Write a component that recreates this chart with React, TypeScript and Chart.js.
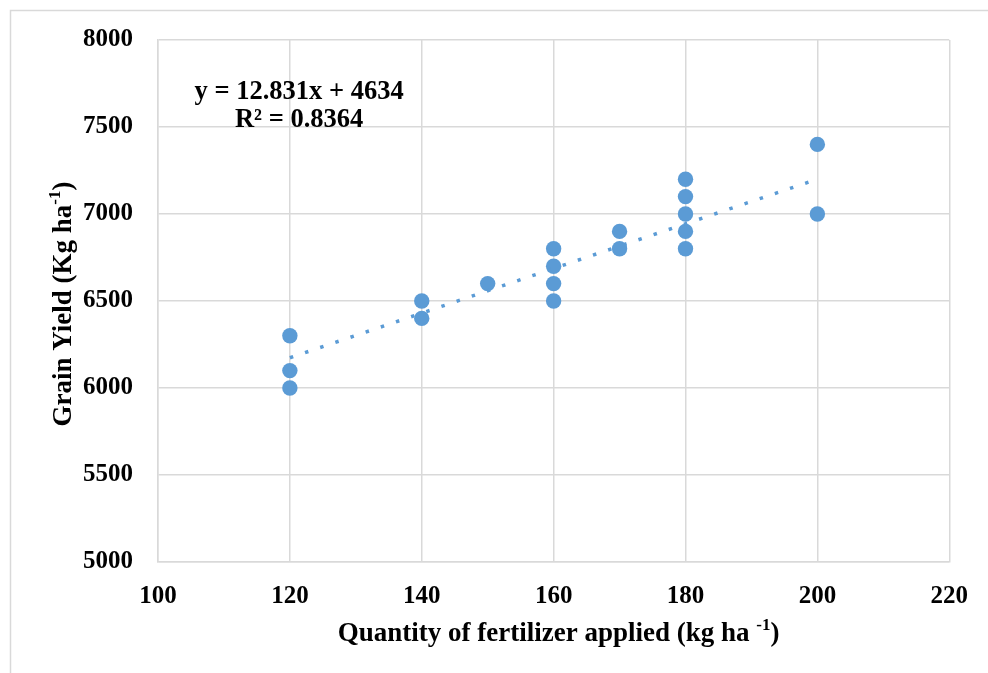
import React, { useEffect, useRef } from "react";
import { Chart, registerables } from "chart.js";
Chart.register(...registerables);

// Data
const fertilizer = [120, 120, 120, 140, 140, 150, 160, 160, 160, 160, 170, 170, 180, 180, 180, 180, 180, 200, 200];
const grainYield = [6300, 6100, 6000, 6500, 6400, 6600, 6800, 6700, 6600, 6500, 6900, 6800, 7200, 7100, 7000, 6900, 6800, 7400, 7000];
// Linear trendline endpoints (y = 12.831x + 4634)
const trendX = [120, 200];
const trendY = [6173.7, 7200.2];
const equationLines = ["y = 12.831x + 4634", "R² = 0.8364"];
const equationAnchor = { x: 121.4, y: 7620 };
const xRange = { min: 100, max: 220, step: 20 };
const yRange = { min: 5000, max: 8000, step: 500 };

const FONT = "'Liberation Serif', 'Times New Roman', serif";
const GRID = "#d9d9d9";
const BLUE = "#5b9bd5";

type Part = { t: string; sup?: boolean };

function drawRich(ctx: CanvasRenderingContext2D, parts: Part[], size: number) {
  const big = `bold ${size}px ${FONT}`;
  const small = `bold ${Math.round(size * 0.62)}px ${FONT}`;
  let w = 0;
  for (const p of parts) {
    ctx.font = p.sup ? small : big;
    w += ctx.measureText(p.t).width;
  }
  let x = -w / 2;
  ctx.textAlign = "left";
  ctx.textBaseline = "middle";
  for (const p of parts) {
    ctx.font = p.sup ? small : big;
    ctx.fillText(p.t, x, p.sup ? -size * 0.32 : 0);
    x += ctx.measureText(p.t).width;
  }
}

const decorPlugin = {
  id: "decor",
  beforeDraw(chart: any) {
    const ctx = chart.ctx as CanvasRenderingContext2D;
    ctx.save();
    ctx.fillStyle = "#ffffff";
    ctx.fillRect(0, 0, chart.width, chart.height);
    ctx.strokeStyle = GRID;
    ctx.lineWidth = 1.5;
    ctx.strokeRect(10.5, 10.5, chart.width + 20, chart.height + 20);
    ctx.restore();
  },
  afterDraw(chart: any) {
    const ctx = chart.ctx as CanvasRenderingContext2D;
    const { chartArea, scales } = chart;
    ctx.save();
    ctx.fillStyle = "#000000";
    // x axis title
    ctx.save();
    ctx.translate((chartArea.left + chartArea.right) / 2 + 5, chartArea.bottom + 72);
    drawRich(ctx, [{ t: "Quantity of fertilizer applied (kg ha " }, { t: "-1", sup: true }, { t: ")" }], 27);
    ctx.restore();
    // y axis title
    ctx.save();
    ctx.translate(64, (chartArea.top + chartArea.bottom) / 2 + 3);
    ctx.rotate(-Math.PI / 2);
    drawRich(ctx, [{ t: "Grain Yield (Kg ha" }, { t: "-1", sup: true }, { t: ")" }], 27);
    ctx.restore();
    // equation
    const ex = scales.x.getPixelForValue(equationAnchor.x);
    const ey = scales.y.getPixelForValue(equationAnchor.y);
    ctx.font = `bold 26.5px ${FONT}`;
    ctx.textAlign = "center";
    ctx.textBaseline = "middle";
    ctx.fillText(equationLines[0], ex, ey - 14);
    ctx.fillText(equationLines[1], ex, ey + 14);
    ctx.restore();
  },
};

export default function App() {
  const ref = useRef<HTMLCanvasElement | null>(null);
  useEffect(() => {
    if (!ref.current) return;
    const chart = new Chart(ref.current, {
      type: "scatter",
      data: {
        datasets: [
          {
            type: "line",
            data: trendX.map((x, i) => ({ x, y: trendY[i] })),
            borderColor: BLUE,
            borderWidth: 3.5,
            borderDash: [3.5, 12.5],
            borderCapStyle: "butt",
            pointRadius: 0,
            fill: false,
          } as any,
          {
            data: fertilizer.map((x, i) => ({ x, y: grainYield[i] })),
            backgroundColor: BLUE,
            borderColor: BLUE,
            borderWidth: 0,
            pointRadius: 7.7,
            pointHoverRadius: 7.7,
          },
        ],
      },
      options: {
        responsive: false,
        animation: false,
        layout: { padding: { left: 0, top: 40, right: 38, bottom: 0 } },
        plugins: { legend: { display: false }, tooltip: { enabled: false } },
        scales: {
          x: {
            type: "linear",
            min: xRange.min,
            max: xRange.max,
            ticks: {
              stepSize: xRange.step,
              padding: 20,
              color: "#000",
              font: { family: FONT, size: 25, weight: "bold" },
              callback: (v: any) => String(v),
            },
            grid: { color: GRID, lineWidth: 1.5, drawTicks: false, tickLength: 0 },
            border: { color: GRID, width: 1.5 },
            afterFit: (s: any) => {
              s.height = 111;
            },
          },
          y: {
            type: "linear",
            min: yRange.min,
            max: yRange.max,
            ticks: {
              stepSize: yRange.step,
              padding: 25,
              color: "#000",
              font: { family: FONT, size: 25, weight: "bold" },
              callback: (v: any) => String(v),
            },
            grid: { color: GRID, lineWidth: 1.5, drawTicks: false, tickLength: 0 },
            border: { color: GRID, width: 1.5 },
            afterFit: (s: any) => {
              s.width = 158;
            },
          },
        },
      },
      plugins: [decorPlugin],
    });
    return () => chart.destroy();
  }, []);
  return (
    <div style={{ position: "fixed", left: 0, top: 0, width: 988, height: 673, background: "#fff" }}>
      <canvas ref={ref} width={988} height={673} style={{ display: "block", width: 988, height: 673 }} />
    </div>
  );
}
